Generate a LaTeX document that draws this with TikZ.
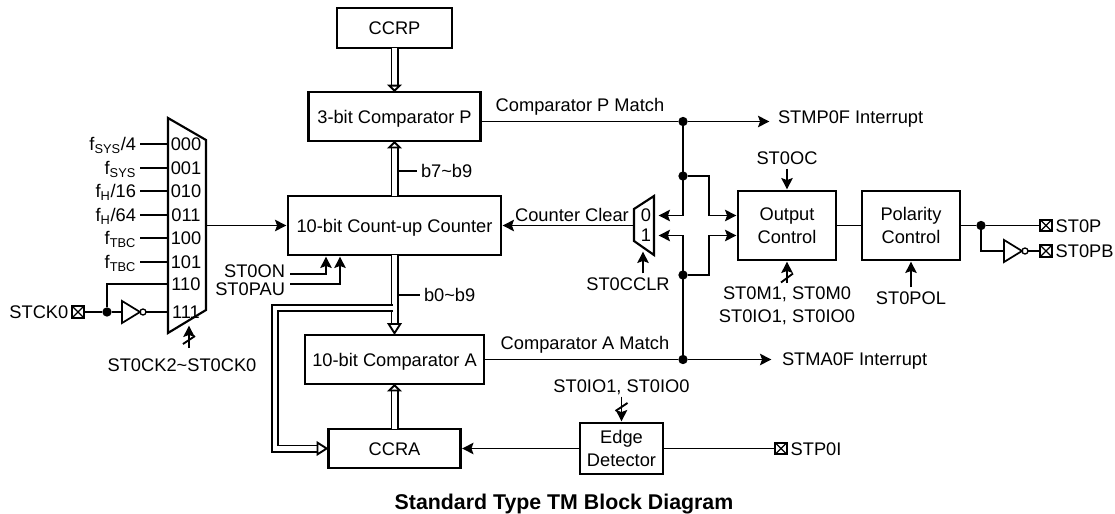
\documentclass[tikz,border=0pt]{standalone}
\usepackage{fontspec}
\setmainfont{Liberation Sans}
\usetikzlibrary{arrows.meta, positioning, calc, shapes.geometric}
\tikzset{
  lbl/.style={inner sep=3pt, outer sep=0pt, text height=9.8pt, text depth=0pt},
  mbox/.style={rectangle, draw, line width=1.6pt, inner sep=0pt, outer sep=0pt, align=center,
               text height=9.8pt, text depth=0pt},
  tbox/.style={rectangle, draw, line width=1.6pt, inner sep=0pt, outer sep=0pt, align=center},
  frame/.style={line width=1.6pt, line join=miter},
  wire/.style={line width=1.4pt},
  arr/.style={-{Stealth[length=8.5pt, width=8.5pt, inset=1.5pt]}, line width=1.4pt, shorten >=1.2pt},
  bus/.style={double, double distance=3.2pt, line width=1.4pt,
              -{Triangle[length=#1, width=11pt, fill=white, line width=1.4pt]}},
  bus/.default=5.5pt,
  dotnode/.style={circle, fill, inner sep=0pt, outer sep=0pt, minimum size=7pt},
  pinbox/.style={rectangle, draw, line width=1.4pt, inner sep=0pt, outer sep=0pt, minimum size=8.5pt,
                 path picture={\draw[line width=1pt] (path picture bounding box.south west) -- (path picture bounding box.north east)
                   (path picture bounding box.north west) -- (path picture bounding box.south east);}},
  invnode/.style={isosceles triangle, isosceles triangle apex angle=63, draw, line width=1.3pt,
                  inner sep=0pt, outer sep=0pt, minimum height=13.5pt},
  bubble/.style={circle, draw, line width=1pt, inner sep=0pt, outer sep=0pt, minimum size=4.5pt},
}
\begin{document}
\begin{tikzpicture}[x=0.75pt, y=-0.75pt, font=\fontsize{13.7}{17}\selectfont]
  \useasboundingbox (0,0) rectangle (1115,514);

  \node[mbox, minimum width=86.25pt, minimum height=30pt] (ccrp) at (394.5,28) {CCRP};
  \node[mbox, minimum width=129pt, minimum height=36.75pt, below=33pt of ccrp] (cmpp) {3-bit Comparator P};
  \node[mbox, minimum width=159.75pt, minimum height=44.25pt, below=41.25pt of cmpp] (counter) {10-bit Count-up Counter};
  \node[mbox, minimum width=134.25pt, minimum height=36.75pt, below=60pt of counter] (cmpa) {10-bit Comparator A};
  \node[mbox, minimum width=99pt, minimum height=29.25pt, below=33.75pt of cmpa] (ccra) {CCRA};
  \node[tbox, minimum width=62.25pt, minimum height=38.25pt] (edge) at (621.5,448.5) {Edge\\Detector};
  \node[tbox, minimum width=73.5pt, minimum height=51.75pt] (outctl) at (787,225.5) {Output\\Control};
  \node[tbox, minimum width=73.5pt, minimum height=51.75pt, right=19.5pt of outctl] (polar) {Polarity\\Control};

  \draw[frame] (168,118) -- (206,140) -- (206,310) -- (168,333) -- cycle;
  \foreach \name/\bits/\ypos/\txt in {a/000/144/{f\textsubscript{SYS}/4}, b/001/168/{f\textsubscript{SYS}},
      c/010/191/{f\textsubscript{H}/16}, d/011/215/{f\textsubscript{H}/64},
      e/100/238/{f\textsubscript{TBC}}, f/101/262/{f\textsubscript{TBC}}} {
    \node[lbl, anchor=east] (src\name) at (140,\ypos) {\txt};
    \node[lbl] (bit\name) at (186,\ypos) {\bits};
    \coordinate (in\name) at (168,\ypos);
    \draw[wire] (src\name.east) -- (in\name);
  }
  \node[lbl] (bitg) at (186,284) {110};
  \node[lbl] (bith) at (186,312) {111};
  \coordinate (ing) at (168,284);
  \coordinate (inh) at (168,312);
  \node[pinbox] (stck) at (78,312) {};
  \node[lbl, anchor=east] (stcklbl) at (stck.west) {STCK0};
  \node[dotnode] (stckdot) at (107,312) {};
  \node[invnode, anchor=west] (inva) at (122,312) {};
  \node[bubble, anchor=west] (buba) at (inva.apex) {};
  \draw[wire] (stck) -- (stckdot) -- (inva);
  \draw[wire] (buba) -- (inh);
  \draw[wire] (stckdot) |- (ing);
  \coordinate (muxout) at (206,225.5);
  \draw[arr] (muxout) -- (counter);
  \node[lbl] (cklbl) at (182,365) {ST0CK2\textasciitilde ST0CK0};
  \coordinate (cksel) at (189,324);
  \coordinate (ckbase) at (189,348);
  \coordinate (ckcut) at (189,340);
  \draw[arr] (ckbase) -- (cksel);
  \draw[wire] ([shift={(-6,4)}]ckcut) -- ([shift={(6,-4)}]ckcut);

  \draw[bus] (ccrp) -- (cmpp);
  \draw[bus] (counter.north) -- (cmpp);
  \draw[bus] (ccra) -- (cmpa);
  \coordinate (fork) at (393,308);
  \coordinate (forkb) at (275,308);
  \draw[bus=9pt] (counter) -- (cmpa);
  \draw[bus=9pt] (fork) -- (forkb) |- (ccra);

  \node[lbl, anchor=west] (bhi) at (417,171) {b7\textasciitilde b9};
  \node[lbl, anchor=west] (blo) at (420,295) {b0\textasciitilde b9};
  \coordinate (bhitap) at (399,171);
  \coordinate (blotap) at (398,295);
  \draw[wire] (bhitap) -- (bhi);
  \draw[wire] (blotap) -- (blo);

  \node[lbl, anchor=east] (onlbl) at (289,271) {ST0ON};
  \node[lbl, anchor=east] (paulbl) at (289,289) {ST0PAU};
  \coordinate (onin) at (326,255);
  \coordinate (pauin) at (340,255);
  \coordinate (onst) at (290,274);
  \coordinate (paust) at (290,284);
  \draw[arr] (onst) -| (onin);
  \draw[arr] (paust) -| (pauin);

  \node[lbl] (pmatch) at (580,105) {Comparator P Match};
  \node[lbl] (amatch) at (585,343) {Comparator A Match};
  \node[lbl, anchor=west] (pint) at (774,117) {STMP0F Interrupt};
  \node[lbl, anchor=west] (aint) at (778,359) {STMA0F Interrupt};
  \coordinate (pend) at (771,121.5);
  \coordinate (aend) at (773,359.5);
  \node[dotnode] (ptop) at (683,121.5) {};
  \node[dotnode] (pmid) at (683,176) {};
  \node[dotnode] (alow) at (683,275) {};
  \node[dotnode] (abot) at (683,359.5) {};
  \draw[arr] (cmpp.east |- ptop) -- (ptop) -- (pend);
  \draw[arr] (cmpa) -- (abot) -- (aend);

  \draw[frame] (634,209) -- (654,196) -- (654,255) -- (634,241) -- cycle;
  \node[lbl] (bitz) at (646,215) {0};
  \node[lbl] (bito) at (646,235) {1};
  \coordinate (clrout) at (634,225.5);
  \coordinate (clrz) at (657,215.5);
  \coordinate (clro) at (657,235.5);
  \coordinate (outz) at (738,215.5);
  \coordinate (outo) at (738,235.5);
  \coordinate (bendu) at (709,176);
  \coordinate (bendd) at (709,275);
  \draw[arr] (clrout) -- (counter);
  \node[lbl] (clrtxt) at (572,215) {Counter Clear};
  \draw[arr] (ptop) |- (clrz);
  \draw[arr] (abot) |- (clro);
  \draw[arr] (pmid) -- (bendu) |- (outz);
  \draw[arr] (alow) -- (bendd) |- (outo);
  \node[lbl] (clrlbl) at (628,284) {ST0CCLR};
  \coordinate (clrsel) at (643,250);
  \draw[arr] (clrlbl.north -| clrsel) -- (clrsel);

  \node[lbl] (oclbl) at (787,158) {ST0OC};
  \draw[arr] (oclbl) -- (outctl);
  \node[align=center, inner sep=3pt, outer sep=0pt] (mlbl) at (787,306) {ST0M1, ST0M0\\ST0IO1, ST0IO0};
  \coordinate (mcut) at (787,278);
  \draw[arr] (mlbl) -- (outctl);
  \draw[wire] ([shift={(-6,4.5)}]mcut) -- ([shift={(6,-4.5)}]mcut);
  \draw[wire] (outctl) -- (polar);
  \node[lbl] (poltxt) at (911,298) {ST0POL};
  \draw[arr] (poltxt) -- (polar);

  \node[dotnode] (outdot) at (981,225.5) {};
  \node[pinbox] (stp) at (1046,225.5) {};
  \node[pinbox] (stpb) at (1046,251) {};
  \node[lbl, anchor=west] (stplbl) at (stp.east) {ST0P};
  \node[lbl, anchor=west] (stpblbl) at (stpb.east) {ST0PB};
  \node[invnode, anchor=west] (invb) at (1004,251) {};
  \node[bubble, anchor=west] (bubb) at (invb.apex) {};
  \draw[wire] (polar) -- (outdot) -- (stp);
  \draw[wire] (outdot) |- (invb);
  \draw[wire] (bubb) -- (stpb);

  \node[lbl] (iolbl) at (621.5,386) {ST0IO1, ST0IO0};
  \coordinate (iocut) at (621.5,407);
  \draw[arr] (iolbl) -- (edge);
  \draw[wire] ([shift={(-6,4)}]iocut) -- ([shift={(6,-4)}]iocut);
  \draw[arr] (edge) -- (ccra);
  \node[pinbox] (stpi) at (781,448.5) {};
  \node[lbl, anchor=west] (stpilbl) at (stpi.east) {STP0I};
  \draw[wire] (edge) -- (stpi);

  \node[lbl, font=\fontsize{16}{18}\selectfont\bfseries, text height=11.4pt] (title) at (564,501.5) {Standard Type TM Block Diagram};
\end{tikzpicture}
\end{document}
